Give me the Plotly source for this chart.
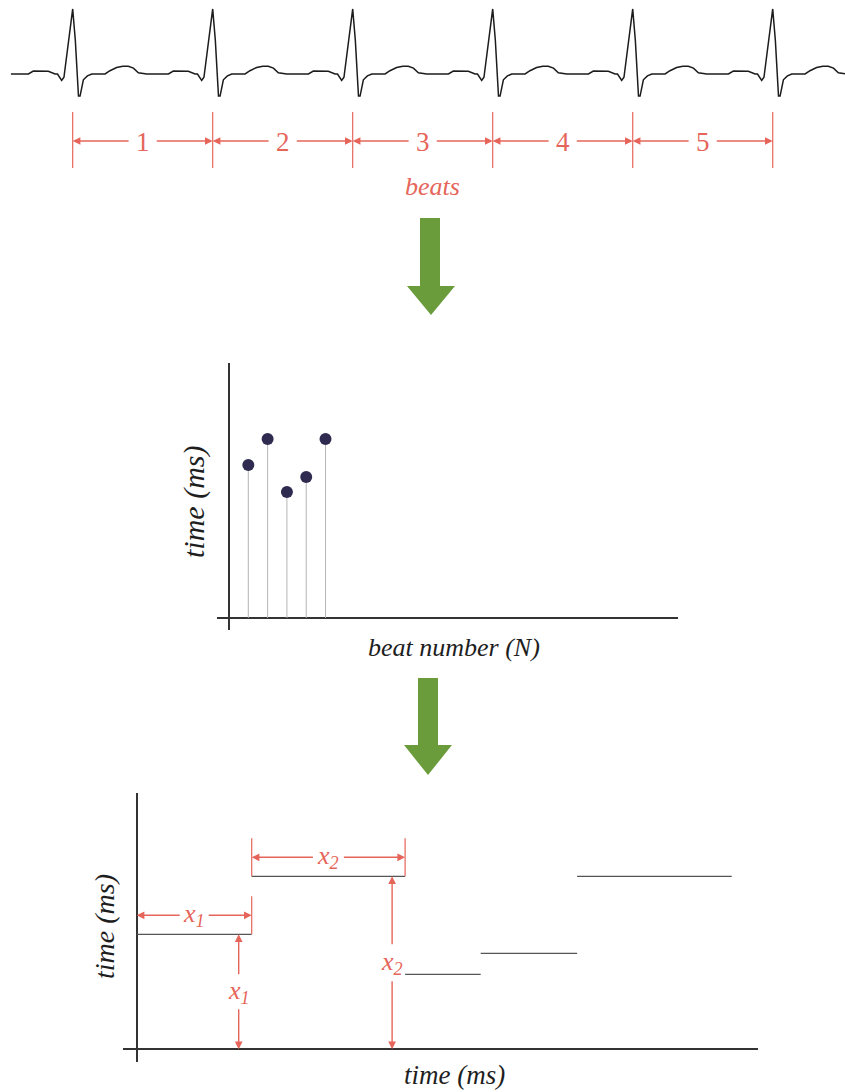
import plotly.graph_objects as go

# ---------------------------------------------------------------- data
# ECG strip: R-peak times and one PQRST complex (offset from R peak, amplitude)
r_peak_ms = [0, 800, 1600, 2400, 3200, 4000]
pqrst_offset_ms = [-253, -225, -139, -101, -87, -63, -50, 0, 15, 33, 42, 61,
                   84, 109, 185, 213, 251, 286, 318, 347, 375, 423]
pqrst_mv = [0, 0.046, 0.042, 0, 0, -0.10, -0.05, 1.0, 0.52, -0.34, -0.34,
            -0.09, -0.03, 0, 0, 0.05, 0.10, 0.12, 0.12, 0.09, 0.02, 0]
strip_start_ms = -353
beat_labels = ["1", "2", "3", "4", "5"]

# RR intervals per beat
beat_number = [1, 2, 3, 4, 5]
rr_ms = [765, 895, 630, 705, 895]

# RR intervals held over time (step series)
step_edges_ms = [0, 575, 1342, 1720, 2202, 2975]
step_levels_ms = [575, 865, 375, 480, 865]
step_labels = ["1", "2"]

# ---------------------------------------------------------------- styling
W, H = 845, 1092
RED = "#e6655a"
GREEN = "#6a9c3b"
INK = "#1e1e1e"
SERIF = "Liberation Serif"


def fx(px):
    return px / W


def fy(py):
    return 1 - py / H


def label(x, y, text, size, color, xref="paper", yref="paper", angle=0):
    return dict(x=x, y=y, xref=xref, yref=yref, text=text, textangle=angle,
                showarrow=False, xanchor="center", yanchor="middle",
                font=dict(family=SERIF, size=size, color=color))


fig = go.Figure()

# ---------------------------------------------------------------- ECG strip
ecg_t = [strip_start_ms]
ecg_v = [0]
for r in r_peak_ms:
    ecg_t += [r + d for d in pqrst_offset_ms]
    ecg_v += list(pqrst_mv)
fig.add_trace(go.Scatter(x=ecg_t, y=ecg_v, mode="lines",
                         line=dict(color="#1c1c1c", width=1.5),
                         xaxis="x", yaxis="y", hoverinfo="skip"))

shapes = []
annotations = []

# beat boundaries and interval arrows
for r in r_peak_ms:
    shapes.append(dict(type="line", xref="x", yref="paper", x0=r, x1=r,
                       y0=fy(112), y1=fy(168),
                       line=dict(color=RED, width=1.2)))
gap = 72
for k, lab in enumerate(beat_labels):
    a, b = r_peak_ms[k], r_peak_ms[k + 1]
    mid = (a + b) / 2
    for head, tail in ((a, mid - gap), (b, mid + gap)):
        annotations.append(dict(x=head, y=fy(141), xref="x", yref="paper",
                                ax=tail, ay=0, axref="x", ayref="pixel",
                                text="", showarrow=True, arrowhead=2,
                                arrowsize=1.1, arrowwidth=1.4, arrowcolor=RED))
    annotations.append(label(mid, fy(142), lab, 27, RED, xref="x"))
annotations.append(label(fx(432), fy(186), "<i>beats</i>", 26, RED))


# ---------------------------------------------------------------- green arrows
def down_arrow(x_l, x_r, top, neck, h_l, h_r, tip_x, tip_y):
    pts = [(x_l, top), (x_r, top), (x_r, neck), (h_r, neck), (tip_x, tip_y),
           (h_l, neck), (x_l, neck)]
    path = "M " + " L ".join(f"{fx(x):.5f},{fy(y):.5f}" for x, y in pts) + " Z"
    return dict(type="path", xref="paper", yref="paper", path=path,
                fillcolor=GREEN, line=dict(width=0))


shapes.append(down_arrow(420, 440, 218, 286, 407, 455, 431, 315))
shapes.append(down_arrow(418, 438, 678, 745, 404, 452, 428, 775))

# ---------------------------------------------------------------- RR stem plot
stem_x, stem_y = [], []
for n, v in zip(beat_number, rr_ms):
    stem_x += [n, n, None]
    stem_y += [0, v, None]
fig.add_trace(go.Scatter(x=stem_x, y=stem_y, mode="lines",
                         line=dict(color="#b5b5b5", width=1),
                         xaxis="x2", yaxis="y2", hoverinfo="skip"))
fig.add_trace(go.Scatter(x=beat_number, y=rr_ms, mode="markers",
                         marker=dict(color="#2f2b50", size=12),
                         xaxis="x2", yaxis="y2", hoverinfo="skip"))
annotations.append(label(fx(194), fy(502), "<i>time (ms)</i>", 30, INK,
                         angle=-90))
annotations.append(label(fx(454), fy(647), "<i>beat number (N)</i>", 26, INK))

# ---------------------------------------------------------------- step plot
step_x, step_y = [], []
for i, lev in enumerate(step_levels_ms):
    step_x += [step_edges_ms[i], step_edges_ms[i + 1], None]
    step_y += [lev, lev, None]
fig.add_trace(go.Scatter(x=step_x, y=step_y, mode="lines",
                         line=dict(color="#555555", width=1.3),
                         xaxis="x3", yaxis="y3", hoverinfo="skip"))

rise = 190        # height of dimension ticks above a level (ms on y)
h_gaps = [65, 70]
v_gaps = [80, 85]
for i, lab in enumerate(step_labels):
    x0, x1 = step_edges_ms[i], step_edges_ms[i + 1]
    lev = step_levels_ms[i]
    # extension ticks
    edges = [x1] if i == 0 else [x0, x1]
    for e in edges:
        shapes.append(dict(type="line", xref="x3", yref="y3", x0=e, x1=e,
                           y0=lev, y1=lev + rise,
                           line=dict(color=RED, width=1.2)))
    # horizontal dimension (duration)
    ym = lev + rise / 2
    xm = (x0 + x1) / 2
    for head, tail in ((x0, xm - h_gaps[i]), (x1, xm + h_gaps[i])):
        annotations.append(dict(x=head, y=ym, xref="x3", yref="y3",
                                ax=tail, ay=ym, axref="x3", ayref="y3",
                                text="", showarrow=True, arrowhead=2,
                                arrowsize=1.1, arrowwidth=1.4, arrowcolor=RED))
    annotations.append(label(xm, ym, f"<i>x<sub>{lab}</sub></i>", 26, RED,
                             xref="x3", yref="y3"))
    # vertical dimension (value)
    xv = x1 - 65
    yv = lev / 2
    for head, tail in ((lev, yv + v_gaps[i]), (0, yv - v_gaps[i])):
        annotations.append(dict(x=xv, y=head, xref="x3", yref="y3",
                                ax=xv, ay=tail, axref="x3", ayref="y3",
                                text="", showarrow=True, arrowhead=2,
                                arrowsize=1.1, arrowwidth=1.4, arrowcolor=RED))
    annotations.append(label(xv, yv, f"<i>x<sub>{lab}</sub></i>", 26, RED,
                             xref="x3", yref="y3"))

annotations.append(label(fx(104), fy(927), "<i>time (ms)</i>", 28, INK,
                         angle=-90))
annotations.append(label(fx(454), fy(1075), "<i>time (ms)</i>", 27, INK))

# ---------------------------------------------------------------- axes
hidden = dict(visible=False, fixedrange=True)
frame = dict(showgrid=False, showticklabels=False, ticks="", showline=False,
             zeroline=True, zerolinecolor="#333333", zerolinewidth=1.5,
             fixedrange=True)

fig.update_layout(
    width=W, height=H, autosize=False,
    margin=dict(l=0, r=0, t=0, b=0),
    paper_bgcolor="white", plot_bgcolor="rgba(0,0,0,0)",
    showlegend=False, hovermode=False,
    xaxis=dict(domain=[0, 1], range=[-415.4, 4413], **hidden),
    yaxis=dict(domain=[fy(110), 1], range=[-0.554, 1.138], **hidden),
    xaxis2=dict(domain=[fx(217), fx(678)], range=[-0.622, 23.26],
                anchor="y2", **frame),
    yaxis2=dict(domain=[fy(630), fy(363)], range=[-60, 1275],
                anchor="x2", **frame),
    xaxis3=dict(domain=[fx(123), fx(758)], range=[-68.5, 3106.5],
                anchor="y3", **frame),
    yaxis3=dict(domain=[fy(1062), fy(793)], range=[-63.5, 1281.5],
                anchor="x3", **frame),
    shapes=shapes,
    annotations=annotations,
)

fig.write_html("out.html")
